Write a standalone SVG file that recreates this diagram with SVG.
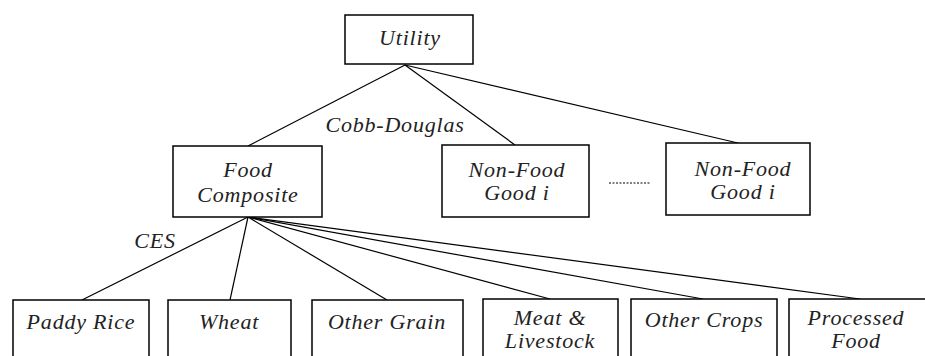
<svg xmlns="http://www.w3.org/2000/svg" width="925" height="356" viewBox="0 0 925 356">
<style>
.box{fill:#fff;stroke:#000;stroke-width:1.5}
.lbl{font-family:"Liberation Serif","Times New Roman",serif;font-style:italic;font-size:22px;letter-spacing:0.8px;fill:#222;text-anchor:middle}
.con{stroke:#000;stroke-width:1.2;fill:none}
</style>
<rect width="925" height="356" fill="#fff"/>
<g id="connectors">
<line class="con" x1="405" y1="65" x2="248" y2="146"/>
<line class="con" x1="405" y1="65" x2="515" y2="145"/>
<line class="con" x1="405" y1="65" x2="738" y2="143"/>
<line class="con" x1="248" y1="217" x2="82" y2="300"/>
<line class="con" x1="248" y1="217" x2="230" y2="300"/>
<line class="con" x1="248" y1="217" x2="387" y2="300"/>
<line class="con" x1="248" y1="217" x2="550" y2="299"/>
<line class="con" x1="248" y1="217" x2="703" y2="299"/>
<line class="con" x1="248" y1="217" x2="860" y2="299"/>
<line class="con" x1="609" y1="183" x2="650" y2="183" stroke-dasharray="2,1.5"/>
</g>
<text class="lbl" x="395" y="132">Cobb-Douglas</text>
<text class="lbl" x="155" y="248">CES</text>
<g id="utility"><rect class="box" x="345" y="15" width="128" height="49"/><text class="lbl" x="410" y="45">Utility</text></g>
<g id="food"><rect class="box" x="173" y="146" width="149" height="71"/><text class="lbl" x="248" y="177">Food</text><text class="lbl" x="248" y="202">Composite</text></g>
<g id="nonfood1"><rect class="box" x="442" y="145" width="147" height="72"/><text class="lbl" x="517" y="177">Non-Food</text><text class="lbl" x="517" y="200">Good i</text></g>
<g id="nonfood2"><rect class="box" x="666" y="143" width="144" height="72"/><text class="lbl" x="743" y="176">Non-Food</text><text class="lbl" x="743" y="199">Good i</text></g>
<g id="paddy"><rect class="box" x="13" y="300" width="136" height="70"/><text class="lbl" x="81" y="329">Paddy Rice</text></g>
<g id="wheat"><rect class="box" x="168" y="300" width="123" height="70"/><text class="lbl" x="229" y="329">Wheat</text></g>
<g id="grain"><rect class="box" x="312" y="300" width="151" height="70"/><text class="lbl" x="387" y="329">Other Grain</text></g>
<g id="meat"><rect class="box" x="483" y="299" width="135" height="70"/><text class="lbl" x="550" y="325">Meat &amp;</text><text class="lbl" x="550" y="348">Livestock</text></g>
<g id="crops"><rect class="box" x="631" y="299" width="146" height="70"/><text class="lbl" x="704" y="327">Other Crops</text></g>
<g id="processed"><rect class="box" x="789" y="299" width="140" height="70"/><text class="lbl" x="856" y="325">Processed</text><text class="lbl" x="856" y="348">Food</text></g>
</svg>
